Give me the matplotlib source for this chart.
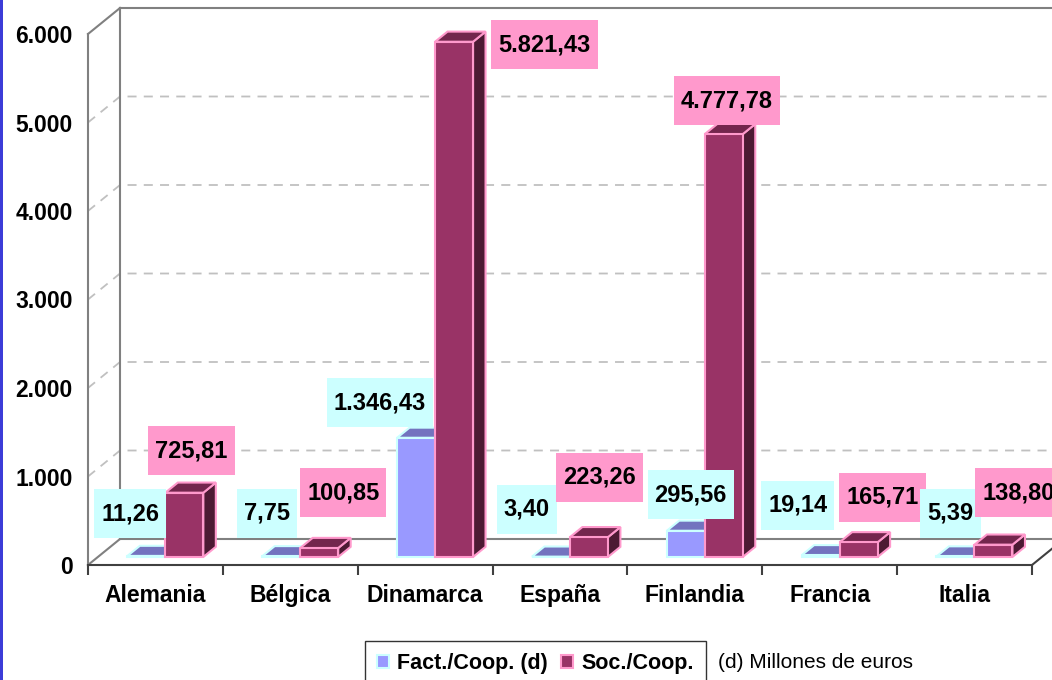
import numpy as np
import matplotlib
matplotlib.use("Agg")
import matplotlib.pyplot as plt
from matplotlib.patches import Polygon, Patch, Rectangle
from matplotlib.path import Path

countries = ['Alemania', 'Bélgica', 'Dinamarca', 'España', 'Finlandia', 'Francia', 'Italia']
fact = [11.26, 7.75, 1346.43, 3.40, 295.56, 19.14, 5.39]      # Fact./Coop. (millones de euros)
soc = [725.81, 100.85, 5821.43, 223.26, 4777.78, 165.71, 138.80]  # Soc./Coop.
yticks = [0, 1000, 2000, 3000, 4000, 5000, 6000]

# label nudges in pixels (dx, dy) relative to the top of each bar, as Excel placed them
fact_nudge = [(-16, 32), (-14, 33), (-36, 25), (-24, 37), (5, 26), (-23, 40), (-5, 33)]
soc_nudge = [(7, 32), (24, 45), (0, 0), (11, 50), (3, 23), (24, 35), (25, 42)]

plt.rcParams['font.family'] = ['Liberation Sans', 'DejaVu Sans']

W, H = 1052, 680
fig = plt.figure(figsize=(W / 100, H / 100), dpi=100)
ax = fig.add_axes([88 / W, 1 - 565 / H, (1032 - 88) / W, (565 - 34) / H])
ax.set_xlim(0, 7)
ax.set_ylim(0, 6000)

# depth of the 3D box in data units (32 px right, 26 px up)
DX = 32 / (944 / 7)
DY = 26 / (531 / 6000)
PX_Y = 6000 / 531  # data units per pixel (y)
PT = 0.72          # points per pixel at 100 dpi


def proj(x, y, d):
    return x + d * DX, y + d * DY


wall = '#808080'
grid = '#C0C0C0'

# walls
line_kw = dict(color=wall, lw=1.5, clip_on=False, zorder=1)
ax.plot(*zip(proj(0, 0, 1), proj(0, 6000, 1)), **line_kw)
ax.plot(*zip(proj(0, 6000, 1), proj(7.5, 6000, 1)), **line_kw)
ax.plot(*zip(proj(0, 6000, 0), proj(0, 6000, 1)), **line_kw)
ax.plot(*zip(proj(0, 0, 0), proj(0, 0, 1)), **line_kw)
ax.plot(*zip(proj(0, 0, 1), proj(7.5, 0, 1)), **line_kw)
ax.plot(*zip(proj(7, 0, 0), proj(7, 0, 1)), color='#404040', lw=1.5, clip_on=False, zorder=1)
for v in yticks[1:-1]:
    pts = [proj(0, v, 0), proj(0, v, 1), proj(7.5, v, 1)]
    ax.plot(*zip(*pts), color=grid, lw=1.3, ls=(0, (5, 4)), clip_on=False, zorder=0.5)

# bars
bw = 38 / (944 / 7)
d0, d1 = 0.31, 0.70
styles = [
    dict(front='#9999FF', top='#7373BF', side='#5C5C99', edge='#CCFFFF'),
    dict(front='#993366', top='#73264D', side='#4D1A33', edge='#FF99CC'),
]


def bar3d(x0, x1, v, st, z):
    front = [proj(x0, 0, d0), proj(x1, 0, d0), proj(x1, v, d0), proj(x0, v, d0)]
    top = [proj(x0, v, d0), proj(x1, v, d0), proj(x1, v, d1), proj(x0, v, d1)]
    side = [proj(x1, 0, d0), proj(x1, 0, d1), proj(x1, v, d1), proj(x1, v, d0)]
    for pts, fc in [(side, st['side']), (top, st['top']), (front, st['front'])]:
        ax.add_patch(Polygon(pts, closed=True, facecolor=fc, edgecolor=st['edge'],
                             lw=1.5, joinstyle='miter', clip_on=False, zorder=z))


def label_box(x0, y0, width, height, mutation_size):
    px, py = 0.3 * mutation_size, 0.55 * mutation_size
    x0, y0 = x0 - px, y0 - py
    x1, y1 = x0 + width + 2 * px, y0 + height + 2 * py
    return Path([(x0, y0), (x1, y0), (x1, y1), (x0, y1), (x0, y0)], closed=True)


def fmt(v):
    return f'{v:,.2f}'.replace(',', 'X').replace('.', ',').replace('X', '.')


lbl_kw = dict(fontsize=17, fontweight='bold', color='black', textcoords='offset points',
              va='center', annotation_clip=False, zorder=10)

for i, (f, s) in enumerate(zip(fact, soc)):
    c = i + 0.5
    bar3d(c - bw, c, f, styles[0], 3 + i)
    bar3d(c, c + bw, s, styles[1], 3 + i + 0.5)

    fx = c - bw / 2 + d0 * DX
    ndx, ndy = fact_nudge[i]
    ax.annotate(fmt(f), xy=(fx, f + d1 * DY), xytext=(ndx * PT, ndy * PT), ha='center',
                bbox=dict(boxstyle=label_box, fc='#CCFFFF', ec='none'), **lbl_kw)

    sx = c + bw / 2 + d0 * DX
    ndx, ndy = soc_nudge[i]
    if s + d1 * DY + 37 * PX_Y > 6000:
        # no room above: put it beside the bar
        ax.annotate(fmt(s), xy=(c + bw + d1 * DX, s + d0 * DY), xytext=(13 * PT, -3 * PT),
                    ha='left', bbox=dict(boxstyle=label_box, fc='#FF99CC', ec='none'), **lbl_kw)
    else:
        ax.annotate(fmt(s), xy=(sx, s + d1 * DY), xytext=(ndx * PT, ndy * PT), ha='center',
                    bbox=dict(boxstyle=label_box, fc='#FF99CC', ec='none'), **lbl_kw)

# axes
for k in ['top', 'right']:
    ax.spines[k].set_visible(False)
ax.spines['left'].set_color(wall)
ax.spines['left'].set_linewidth(1.5)
ax.spines['bottom'].set_color('#404040')
ax.spines['bottom'].set_linewidth(1.5)
ax.set_facecolor('none')

ax.set_yticks(yticks)
ax.set_yticklabels([fmt(v)[:-3] for v in yticks], fontsize=16.5, fontweight='bold')
ax.tick_params(axis='y', length=0, pad=11)
ax.set_xticks(np.arange(7) + 0.5)
ax.set_xticklabels(countries, fontsize=16.5, fontweight='bold')
ax.set_xticks(np.arange(8), minor=True)
ax.tick_params(axis='x', which='major', length=0, pad=14)
ax.tick_params(axis='x', which='minor', length=7, width=1.5, color='#404040', direction='out')

# left accent strip
fig.patches.append(Rectangle((0, 0), 3 / W, 1, transform=fig.transFigure,
                             facecolor='#3C3CD8', edgecolor='none'))

handles = [Patch(facecolor='#9999FF', edgecolor='#CCFFFF', lw=1.5),
           Patch(facecolor='#993366', edgecolor='#FF99CC', lw=1.5)]
leg = fig.legend(handles, ['Fact./Coop. (d)', 'Soc./Coop.'], loc='upper left',
                 bbox_to_anchor=(365 / W, 1 - 641 / H), ncol=2, frameon=True, fancybox=False,
                 prop=dict(size=15.5, weight='bold'), handlelength=0.55, handleheight=0.55,
                 handletextpad=0.4, columnspacing=0.6, borderpad=0.55, borderaxespad=0)
leg.get_frame().set_edgecolor('black')
leg.get_frame().set_linewidth(1)
fig.text(718 / W, 1 - 662 / H, '(d) Millones de euros', fontsize=15, va='center', ha='left')

fig.savefig('out.png', dpi=100)
